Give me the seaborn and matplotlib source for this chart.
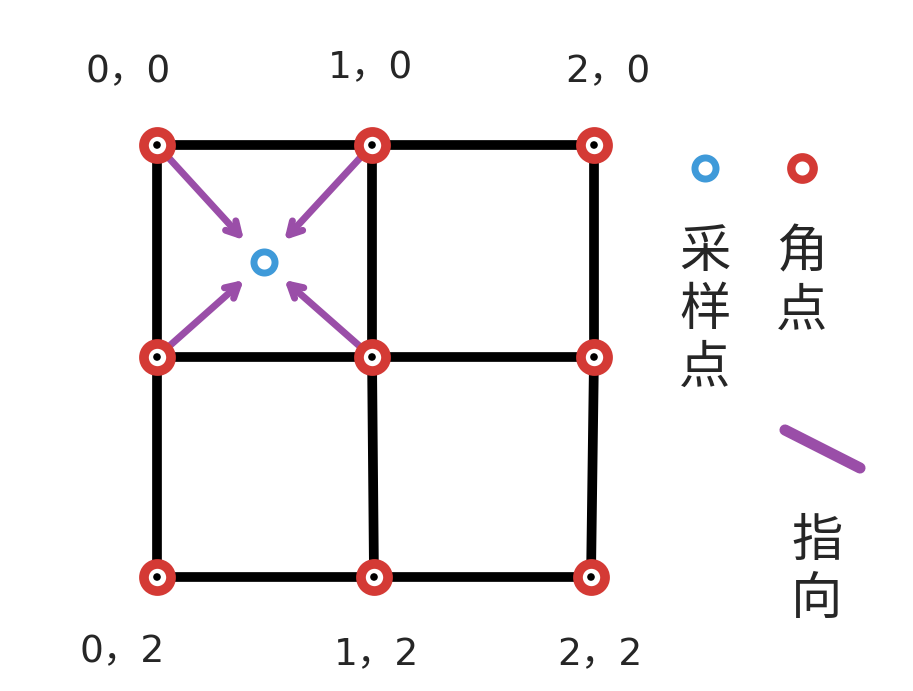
import matplotlib.pyplot as plt
import seaborn as sns
import pandas as pd

# grid corner points in picture pixels
node_x = [157, 372, 594, 157, 372, 594, 157, 374, 591]
node_y = [145, 145, 145, 357, 357, 357, 577, 577, 577]
node_labels = ["0，0", "1，0", "2，0", "", "", "", "0，2", "1，2", "2，2"]
label_pos = [(128, 72), (370, 68), (608, 72), None, None, None, (122, 652), (376, 655), (600, 655)]

sample_x, sample_y = 264, 262
# arrows from these corners toward the sample point
arrow_from = [0, 1, 3, 4]

PURPLE = "#9a4ea8"
RED = "#d43a35"
BLUE = "#3f9ad9"

sns.set_style("white")
plt.rcParams['font.family'] = ['DejaVu Sans', 'Noto Sans CJK SC']

fig = plt.figure(figsize=(9.13, 6.91), dpi=100)
ax = fig.add_axes([0, 0, 1, 1])
ax.set_xlim(0, 913)
ax.set_ylim(691, 0)
ax.axis("off")

nodes = pd.DataFrame({"x": node_x, "y": node_y})

# grid lines
for r in range(3):
    ax.plot(node_x[r*3:r*3+3], node_y[r*3:r*3+3], color="black", lw=7, zorder=1, solid_capstyle="round")
    ax.plot(node_x[r::3], node_y[r::3], color="black", lw=7, zorder=1, solid_capstyle="round")

# arrows
for i in arrow_from:
    x0, y0 = node_x[i], node_y[i]
    dx, dy = sample_x - x0, sample_y - y0
    ax.annotate("", xy=(sample_x - dx * 0.17, sample_y - dy * 0.17),
                xytext=(x0 + dx * 0.05, y0 + dy * 0.05),
                arrowprops=dict(arrowstyle="->,head_length=0.9,head_width=0.5", color=PURPLE, lw=5),
                zorder=2)

sns.scatterplot(data=nodes, x="x", y="y", ax=ax, s=380, color="white",
                edgecolor=RED, linewidth=7, zorder=3, legend=False)
sns.scatterplot(data=nodes, x="x", y="y", ax=ax, s=30, color="black",
                edgecolor="none", zorder=4, legend=False)
ax.scatter([sample_x], [sample_y], s=230, color="white", edgecolor=BLUE, linewidth=5, zorder=3)
ax.set_xlabel("")
ax.set_ylabel("")

for lab, pos in zip(node_labels, label_pos):
    if pos:
        ax.text(pos[0], pos[1], lab, fontsize=27, ha="center", va="center",
                family=['DejaVu Sans', 'Noto Sans CJK SC'])

# legend
ax.scatter([705], [168], s=230, color="white", edgecolor=BLUE, linewidth=5)
ax.scatter([802], [168], s=260, color="white", edgecolor=RED, linewidth=6)
cjk = ['Noto Sans CJK SC', 'DejaVu Sans']
ax.text(705, 310, "采\n样\n点", fontsize=37, ha="center", va="center", linespacing=1.1, family=cjk)
ax.text(802, 282, "角\n点", fontsize=37, ha="center", va="center", linespacing=1.1, family=cjk)
ax.plot([785, 860], [430, 468], color=PURPLE, lw=8, solid_capstyle="round")
ax.text(817, 570, "指\n向", fontsize=37, ha="center", va="center", linespacing=1.1, family=cjk)

fig.savefig("out.png", dpi=100)
